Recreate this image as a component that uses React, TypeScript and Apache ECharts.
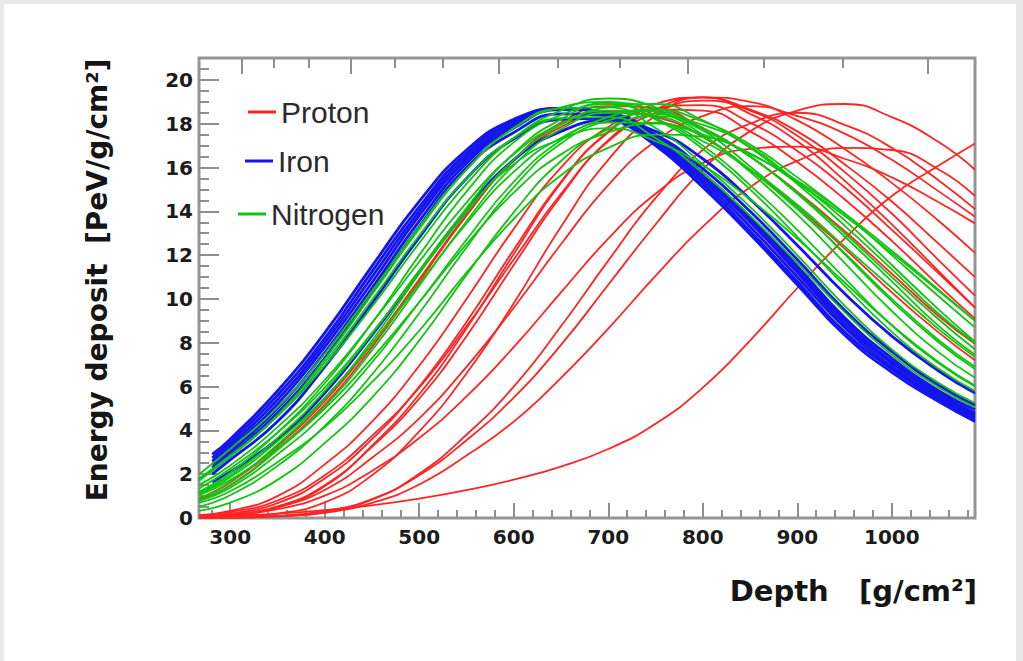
import { useEffect, useRef } from "react";
import * as echarts from "echarts";

const DEPTH = [267, 300, 350, 400, 450, 500, 550, 600, 650, 700, 750, 800, 850, 900, 950, 1000, 1050, 1088];
const DEPTH_FE = [281, 300, 350, 400, 450, 500, 550, 600, 650, 700, 750, 800, 850, 900, 950, 1000, 1050, 1088];

// Proton curves (PeV/g/cm^2)
const P1 = [0.88, 1.62, 3.28, 5.34, 7.95, 10.9, 13.85, 16.3, 17.85, 18.55, 18.3, 17.4, 15.9, 14.2, 12.3, 10.3, 8.45, 7.2];
const P2 = [0.82, 1.5, 3.15, 5.18, 7.8, 10.8, 13.8, 16.35, 18.05, 18.8, 18.7, 17.8, 16.5, 14.9, 13.1, 11.15, 9.2, 7.95];
const P3 = [0.03, 0.12, 0.48, 1.45, 3.3, 5.65, 8.65, 12.05, 15.3, 17.6, 18.7, 18.85, 18.05, 16.75, 15.1, 13.15, 11.15, 9.6];
const P4 = [0.07, 0.2, 0.68, 1.8, 3.6, 6.0, 8.95, 12.25, 15.35, 17.65, 18.9, 19.2, 18.45, 17.2, 15.4, 13.4, 11.25, 9.6];
const P5 = [0.05, 0.15, 0.53, 1.5, 3.25, 5.45, 8.3, 11.55, 14.7, 17.25, 18.65, 19.2, 18.65, 17.65, 16.15, 14.45, 12.5, 11.0];
const P6 = [0.11, 0.26, 0.8, 1.95, 3.75, 5.95, 8.75, 11.8, 14.8, 17.2, 18.5, 19.05, 18.6, 17.45, 15.8, 13.9, 11.75, 10.15];
const P7 = [0.01, 0.03, 0.2, 0.71, 1.95, 3.95, 6.6, 9.8, 13.3, 16.35, 18.35, 19.2, 19.0, 18.15, 16.85, 15.3, 13.55, 12.1];
const P8 = [0.13, 0.32, 1.0, 2.45, 4.4, 6.95, 10.0, 13.2, 16.0, 17.85, 18.65, 18.6, 17.65, 16.25, 14.55, 12.65, 10.6, 9.1];
const P9 = [0.06, 0.15, 0.49, 1.28, 2.75, 4.55, 6.9, 9.6, 12.5, 15.2, 17.2, 18.35, 18.8, 18.35, 17.55, 16.35, 14.9, 13.75];
const P10 = [0.05, 0.13, 0.4, 1.02, 2.15, 3.65, 5.55, 7.8, 10.3, 12.75, 14.8, 16.2, 16.85, 16.95, 16.4, 15.55, 14.4, 13.45];
const P11 = [0.0, 0.01, 0.07, 0.28, 0.84, 2.02, 3.8, 6.0, 8.75, 11.75, 14.6, 16.8, 18.0, 18.5, 17.95, 16.9, 15.4, 14.1];
const P12 = [0.0, 0.02, 0.1, 0.32, 0.86, 1.95, 3.55, 5.5, 7.9, 10.65, 13.4, 15.9, 17.65, 18.6, 18.9, 18.3, 17.15, 15.9];
const P13 = [0.0, 0.02, 0.08, 0.24, 0.69, 1.53, 2.85, 4.4, 6.4, 8.65, 11.05, 13.3, 15.1, 16.3, 16.9, 16.8, 15.9, 14.7];
const P14 = [0.05, 0.1, 0.2, 0.36, 0.58, 0.88, 1.27, 1.75, 2.35, 3.15, 4.3, 5.95, 8.1, 10.5, 12.75, 14.7, 16.1, 17.1];

// Iron curves (on DEPTH_FE)
const F1 = [2.9, 3.6, 5.8, 8.45, 11.5, 14.45, 16.8, 18.2, 18.7, 18.3, 17.0, 15.1, 12.95, 10.65, 8.35, 6.65, 5.3, 4.4];
const F2 = [2.75, 3.45, 5.6, 8.2, 11.25, 14.2, 16.65, 18.1, 18.7, 18.35, 17.1, 15.25, 13.1, 10.8, 8.5, 6.8, 5.4, 4.5];
const F3 = [2.6, 3.3, 5.4, 8.0, 11.0, 14.0, 16.5, 18.0, 18.7, 18.4, 17.2, 15.4, 13.3, 11.0, 8.7, 6.9, 5.5, 4.6];
const F4 = [2.45, 3.15, 5.2, 7.8, 10.75, 13.8, 16.35, 17.9, 18.7, 18.45, 17.3, 15.55, 13.5, 11.2, 8.85, 7.05, 5.6, 4.7];
const F5 = [2.3, 3.0, 5.0, 7.55, 10.5, 13.55, 16.2, 17.8, 18.65, 18.5, 17.45, 15.7, 13.65, 11.35, 9.0, 7.15, 5.7, 4.8];
const F6 = [2.2, 2.85, 4.8, 7.3, 10.3, 13.3, 16.0, 17.6, 18.45, 18.35, 17.4, 15.75, 13.75, 11.5, 9.15, 7.3, 5.8, 4.95];
const F7 = [2.0, 2.65, 4.4, 6.9, 9.8, 12.8, 15.5, 17.3, 18.2, 18.25, 17.5, 15.95, 14.0, 11.8, 9.5, 7.6, 6.05, 5.15];
const F8 = [1.65, 2.1, 3.6, 5.7, 8.35, 11.25, 14.05, 16.35, 17.65, 18.15, 17.65, 16.4, 14.55, 12.45, 10.25, 8.3, 6.7, 5.7];

// Nitrogen curves
const N1 = [1.7, 2.8, 4.7, 7.25, 10.2, 13.2, 15.9, 17.8, 18.7, 18.75, 17.8, 16.15, 14.2, 12.0, 9.7, 7.7, 6.15, 5.25];
const N2 = [2.0, 3.15, 5.05, 7.5, 10.35, 13.3, 15.9, 17.8, 18.75, 19.0, 18.2, 16.85, 15.0, 12.85, 10.6, 8.5, 6.8, 5.8];
const N3 = [1.2, 2.07, 3.9, 6.15, 8.9, 12.0, 14.9, 17.15, 18.4, 18.9, 18.25, 17.0, 15.2, 13.15, 10.95, 8.8, 7.05, 6.0];
const N4 = [1.8, 2.85, 4.65, 6.95, 9.65, 12.55, 15.25, 17.35, 18.6, 19.15, 18.75, 17.7, 16.05, 14.2, 12.05, 9.9, 8.0, 6.8];
const N5 = [0.8, 1.48, 3.1, 5.1, 7.65, 10.6, 13.55, 16.1, 17.75, 18.5, 18.35, 17.4, 15.9, 14.1, 12.1, 10.0, 8.1, 6.9];
const N6 = [1.1, 1.86, 3.5, 5.5, 7.95, 10.7, 13.45, 15.8, 17.35, 18.05, 18.05, 17.2, 15.9, 14.3, 12.4, 10.5, 8.6, 7.35];
const N7 = [1.35, 2.25, 3.9, 5.95, 8.45, 11.2, 13.95, 16.35, 17.95, 18.75, 18.9, 18.15, 16.9, 15.25, 13.35, 11.35, 9.3, 8.0];
const N8 = [0.78, 1.38, 2.9, 4.75, 7.1, 9.85, 12.7, 15.35, 17.25, 18.3, 18.65, 18.1, 17.05, 15.55, 13.9, 12.0, 10.1, 8.7];
const N9 = [1.03, 1.73, 3.2, 5.0, 7.3, 9.85, 12.5, 14.85, 16.6, 17.6, 18.0, 17.5, 16.65, 15.3, 13.8, 12.1, 10.35, 9.0];
const N10 = [0.33, 0.7, 1.74, 3.42, 5.5, 8.1, 11.1, 13.95, 16.3, 17.75, 18.35, 17.95, 16.95, 15.35, 13.6, 11.55, 9.5, 8.05];
const N11 = [0.7, 1.22, 2.55, 4.15, 6.2, 8.55, 11.2, 13.65, 15.65, 16.9, 17.5, 17.4, 16.6, 15.4, 13.9, 12.2, 10.4, 9.0];
const N12 = [1.13, 1.95, 3.65, 5.8, 8.4, 11.3, 14.05, 16.15, 17.3, 17.8, 17.2, 16.1, 14.55, 12.75, 10.75, 8.8, 7.1, 6.05];
const N13 = [0.52, 1.04, 2.38, 4.2, 6.55, 9.35, 12.35, 15.1, 17.1, 18.15, 18.45, 17.7, 16.5, 14.8, 12.85, 10.8, 8.75, 7.45];
const N14 = [0.9, 1.65, 3.35, 5.45, 8.1, 11.15, 14.15, 16.65, 18.2, 18.95, 18.6, 17.5, 15.8, 13.85, 11.65, 9.45, 7.55, 6.4];
const N15 = [1.75, 2.8, 4.65, 7.1, 9.95, 12.9, 15.5, 17.35, 18.25, 18.3, 17.35, 15.75, 13.8, 11.65, 9.4, 7.45, 5.95, 5.05];
const N16 = [1.5, 2.4, 4.15, 6.3, 8.9, 11.7, 14.4, 16.6, 18.0, 18.6, 18.55, 17.8, 16.5, 14.85, 13.0, 11.0, 9.05, 7.7];

const PROTON = [P1, P2, P3, P4, P5, P6, P7, P8, P9, P10, P11, P12, P13, P14];
const IRON = [F1, F2, F3, F4, F5, F6, F7, F8];
const NITROGEN = [N1, N2, N3, N4, N5, N6, N7, N8, N9, N10, N11, N12, N13, N14, N15, N16];

// Axis ticks
const X_MAJOR = [300, 400, 500, 600, 700, 800, 900, 1000];
const X_MINOR = [280, 320, 340, 360, 380, 420, 440, 460, 480, 520, 540, 560, 580, 620, 640, 660, 680, 720, 740, 760, 780, 820, 840, 860, 880, 920, 940, 960, 980, 1020, 1040, 1060, 1080];
const TOP_MAJOR = [312, 428, 584, 784, 1038];
const TOP_MINOR = [346, 383, 474, 525, 647, 712, 864, 948];
const Y_MAJOR = [0, 2, 4, 6, 8, 10, 12, 14, 16, 18, 20];
const Y_MINOR = [0.5, 1, 1.5, 2.5, 3, 3.5, 4.5, 5, 5.5, 6.5, 7, 7.5, 8.5, 9, 9.5, 10.5, 11, 11.5, 12.5, 13, 13.5, 14.5, 15, 15.5, 16.5, 17, 17.5, 18.5, 19, 19.5, 20.5];

const RED = "#ff2424";
const BLUE = "#1414ee";
const GREEN = "#12c412";
const TICK = { color: "#8e8e8e", width: 2 };
const LABEL_FONT = { fontFamily: "DejaVu Sans", fontWeight: "bold" as const, fontSize: 20, color: "#1c1c1c" };
const plain = (v: number) => String(v);

export default function App() {
  const ref = useRef<HTMLDivElement>(null);

  useEffect(() => {
    if (!ref.current) return;
    const chart = echarts.init(ref.current, null, { renderer: "svg" });

    const mk = (name: string, color: string, width: number, xs: number[]) => (vals: number[]) => ({
      type: "line",
      name,
      xAxisIndex: 0,
      yAxisIndex: 0,
      data: xs.map((d, j) => [d, vals[j]]),
      showSymbol: false,
      symbol: "none",
      smooth: 0.5,
      silent: true,
      lineStyle: { color, width },
      itemStyle: { color },
    });

    const series = [
      ...PROTON.map(mk("Proton", RED, 1.8, DEPTH)),
      ...IRON.map(mk("Iron", BLUE, 2.8, DEPTH_FE)),
      ...NITROGEN.map(mk("Nitrogen", GREEN, 1.8, DEPTH)),
    ];

    const hiddenAxis = { show: false };
    const legendBase = {
      orient: "vertical",
      icon: "rect",
      itemWidth: 28,
      itemHeight: 3,
      padding: 0,
      selectedMode: false,
      textStyle: { fontFamily: "Liberation Sans", fontSize: 30, color: "#2b2b2b" },
    };

    chart.setOption({
      animation: false,
      backgroundColor: "#ffffff",
      grid: {
        left: 195,
        top: 54,
        width: 776,
        height: 460,
        show: true,
        borderColor: "#959595",
        borderWidth: 3,
        backgroundColor: "transparent",
      },
      legend: [
        { ...legendBase, data: ["Proton"], left: 244, top: 93 },
        { ...legendBase, data: ["Iron"], left: 241, top: 142 },
        { ...legendBase, data: ["Nitrogen"], left: 234, top: 195 },
      ],
      xAxis: [
        {
          type: "value",
          min: 267,
          max: 1088,
          position: "bottom",
          axisLine: hiddenAxis,
          splitLine: hiddenAxis,
          axisTick: { show: true, inside: true, length: 15, customValues: X_MAJOR, lineStyle: TICK },
          axisLabel: { show: true, customValues: X_MAJOR, margin: 9, formatter: plain, ...LABEL_FONT },
        },
        {
          type: "value",
          min: 267,
          max: 1088,
          position: "bottom",
          axisLine: hiddenAxis,
          splitLine: hiddenAxis,
          axisTick: { show: true, inside: true, length: 8, customValues: X_MINOR, lineStyle: TICK },
          axisLabel: { show: false, customValues: X_MINOR },
        },
        {
          type: "value",
          min: 267,
          max: 1088,
          position: "top",
          axisLine: hiddenAxis,
          splitLine: hiddenAxis,
          axisTick: { show: true, inside: true, length: 16, customValues: TOP_MAJOR, lineStyle: TICK },
          axisLabel: { show: false, customValues: TOP_MAJOR },
        },
        {
          type: "value",
          min: 267,
          max: 1088,
          position: "top",
          axisLine: hiddenAxis,
          splitLine: hiddenAxis,
          axisTick: { show: true, inside: true, length: 10, customValues: TOP_MINOR, lineStyle: TICK },
          axisLabel: { show: false, customValues: TOP_MINOR },
        },
      ],
      yAxis: [
        {
          type: "value",
          min: 0,
          max: 21,
          position: "left",
          axisLine: hiddenAxis,
          splitLine: hiddenAxis,
          axisTick: { show: true, inside: true, length: 20, customValues: Y_MAJOR, lineStyle: TICK },
          axisLabel: { show: true, customValues: Y_MAJOR, margin: 6, formatter: plain, ...LABEL_FONT },
        },
        {
          type: "value",
          min: 0,
          max: 21,
          position: "left",
          offset: 0,
          axisLine: hiddenAxis,
          splitLine: hiddenAxis,
          axisTick: { show: true, inside: true, length: 10, customValues: Y_MINOR, lineStyle: TICK },
          axisLabel: { show: false, customValues: Y_MINOR },
        },
      ],
      graphic: [
        {
          type: "text",
          right: 1012 - 973,
          top: 572,
          style: {
            text: "Depth   [g/cm²]",
            fontFamily: "DejaVu Sans",
            fontWeight: "bold",
            fontSize: 29,
            fill: "#151515",
          },
        },
        {
          type: "text",
          x: 93,
          y: 276,
          rotation: Math.PI / 2,
          style: {
            text: "Energy deposit  [PeV/g/cm²]",
            fontFamily: "DejaVu Sans",
            fontWeight: "bold",
            fontSize: 28,
            fill: "#151515",
            align: "center",
            verticalAlign: "middle",
          },
        },
      ],
      series,
    });

    return () => chart.dispose();
  }, []);

  return (
    <div style={{ position: "absolute", left: 0, top: 0, width: 1023, height: 661, background: "#e8e8e8" }}>
      <div ref={ref} style={{ position: "absolute", left: 4, top: 4, width: 1012, height: 657 }} />
    </div>
  );
}
